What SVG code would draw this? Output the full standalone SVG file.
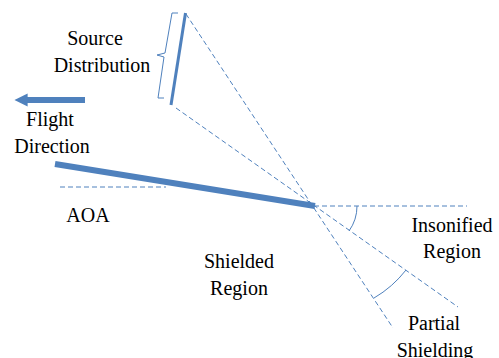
<svg xmlns="http://www.w3.org/2000/svg" width="499" height="358" viewBox="0 0 499 358">
<style>
.d{stroke:#4F81BD;stroke-width:1;stroke-dasharray:5,3;fill:none}
.s{stroke:#4F81BD;fill:none}
</style>
<defs>
<marker id="ah" viewBox="0 0 10 10" refX="2" refY="5" markerWidth="2.2" markerHeight="2.2" orient="auto"><path d="M0,0 L10,5 L0,10 z" fill="#4F81BD"/></marker>
</defs>
<rect width="499" height="358" fill="#fff"/>
<g id="connectors">
<line class="d" x1="186" y1="14" x2="393" y2="328"/>
<line class="d" x1="176" y1="108" x2="458" y2="307"/>
<line class="d" x1="314" y1="206" x2="467" y2="206"/>
<line class="d" x1="60" y1="187" x2="166" y2="187"/>
<path class="s" stroke-width="1" d="M357,206 A43,43 0 0 1 349,231"/>
<path class="s" stroke-width="1" d="M406,270 A112,112 0 0 1 374,298"/>
</g>
<g font-family="Liberation Serif, serif" font-size="20" fill="#000" text-anchor="middle">
<g id="source">
<line class="s" stroke-width="3" x1="185.5" y1="13" x2="171" y2="105"/>
<path class="s" stroke-width="1" d="M178,13 L172,13 L165,53 L157,55 L164,57 L158,98 L164,98"/>
<text x="95" y="45">Source</text>
<text x="102" y="72">Distribution</text>
</g>
<g id="flight">
<line class="s" stroke-width="6" x1="85" y1="100" x2="25" y2="100" marker-end="url(#ah)"/>
<text x="50" y="126">Flight</text>
<text x="52" y="153">Direction</text>
</g>
<g id="wing">
<line class="s" stroke-width="6" x1="55" y1="164" x2="315" y2="206"/>
</g>
<g id="aoa"><text x="88" y="222">AOA</text></g>
<g id="shielded">
<text x="239" y="268">Shielded</text>
<text x="239" y="295">Region</text>
</g>
<g id="insonified">
<text x="452" y="232">Insonified</text>
<text x="452" y="258">Region</text>
</g>
<g id="partial">
<text x="434" y="330">Partial</text>
<text x="435" y="357">Shielding</text>
</g>
</g>
</svg>
